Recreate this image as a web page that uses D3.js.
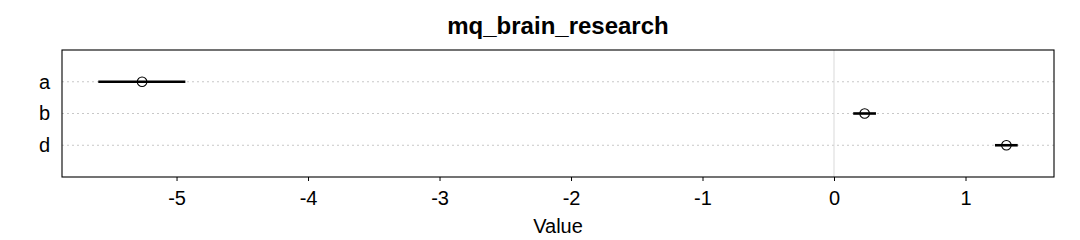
<!DOCTYPE html>
<html lang="en">
<head>
<meta charset="utf-8">
<script src="https://d3js.org/d3.v7.min.js"></script>
<style>
  body { margin: 0; background: #fff; }
  svg text { font-family: "Liberation Sans", Arial, sans-serif; fill: #000; }
  .tick text { font-size: 20px; }
  .grid line { stroke: #c8c8c8; stroke-dasharray: 2 3; stroke-width: 1; }
</style>
</head>
<body>
<div id="chart"></div>
<script>
var categories = ["a", "b", "d"];
var estimates = [-5.262, 0.233, 1.311];
var lower = [-5.595, 0.146, 1.224];
var upper = [-4.933, 0.319, 1.397];
var xTicks = [-5, -4, -3, -2, -1, 0, 1];

var data = categories.map(function(c, i) {
  return { cat: c, est: estimates[i], lo: lower[i], hi: upper[i] };
});

var W = 1080, H = 240;
var margin = { top: 50, right: 26, bottom: 63, left: 62 };
var iw = W - margin.left - margin.right,
    ih = H - margin.top - margin.bottom;

var svg = d3.select("#chart").append("svg")
  .attr("width", W).attr("height", H);

var g = svg.append("g")
  .attr("transform", "translate(" + margin.left + "," + margin.top + ")");

var x = d3.scaleLinear().domain([-5.871, 1.673]).range([0, iw]);
var y = d3.scalePoint().domain(categories).range([0, ih]).padding(1);

// title
svg.append("text")
  .attr("x", margin.left + iw / 2).attr("y", 34)
  .attr("text-anchor", "middle")
  .style("font-size", "24px").style("font-weight", "bold")
  .text("mq_brain_research");

// dotted row gridlines
g.append("g").attr("class", "grid")
  .selectAll("line").data(categories).enter().append("line")
  .attr("x1", 0).attr("x2", iw)
  .attr("y1", function(d) { return y(d); })
  .attr("y2", function(d) { return y(d); });

// zero line
g.append("line")
  .attr("x1", x(0)).attr("x2", x(0))
  .attr("y1", 0).attr("y2", ih)
  .attr("stroke", "#d9d9d9").attr("stroke-width", 1);

// x axis
var xAxis = g.append("g")
  .attr("transform", "translate(0," + ih + ")")
  .call(d3.axisBottom(x).tickValues(xTicks).tickSize(4).tickPadding(10)
    .tickFormat(d3.format("d")));
xAxis.select(".domain").remove();
xAxis.selectAll(".tick line").attr("stroke", "#000");
xAxis.selectAll(".tick text").text(function(d) { return d < 0 ? "-" + Math.abs(d) : d; });

// y axis labels
var yAxis = g.append("g")
  .call(d3.axisLeft(y).tickSize(0).tickPadding(12));
yAxis.select(".domain").remove();

// x label
svg.append("text")
  .attr("x", margin.left + iw / 2).attr("y", 233)
  .attr("text-anchor", "middle")
  .style("font-size", "20px")
  .text("Value");

// intervals
g.selectAll(".ci").data(data).enter().append("line")
  .attr("class", "ci")
  .attr("x1", function(d) { return x(d.lo); })
  .attr("x2", function(d) { return x(d.hi); })
  .attr("y1", function(d) { return y(d.cat); })
  .attr("y2", function(d) { return y(d.cat); })
  .attr("stroke", "#000").attr("stroke-width", 2.6);

// points
g.selectAll(".pt").data(data).enter().append("circle")
  .attr("class", "pt")
  .attr("cx", function(d) { return x(d.est); })
  .attr("cy", function(d) { return y(d.cat); })
  .attr("r", 4.8)
  .attr("fill", "none").attr("stroke", "#000").attr("stroke-width", 1.1);

// frame
g.append("rect")
  .attr("x", 0).attr("y", 0).attr("width", iw).attr("height", ih)
  .attr("fill", "none").attr("stroke", "#000").attr("stroke-width", 1.1);
</script>
</body>
</html>
